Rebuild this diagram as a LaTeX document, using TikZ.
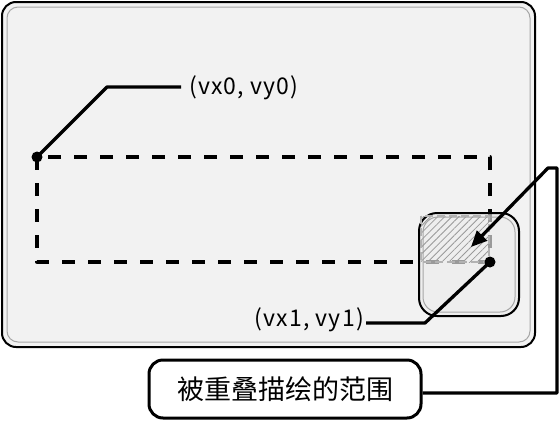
\documentclass[tikz,border=0pt]{standalone}
\usepackage{fontspec}
\setmainfont{Noto Sans CJK SC}
\newfontfamily\labelfont[LetterSpace=5]{Noto Sans CJK SC}
\usetikzlibrary{arrows.meta,patterns.meta}

\begin{document}
\begin{tikzpicture}[x=1pt,y=-1pt,line join=round,
  frame/.style={draw=black,line width=2pt,rounded corners=14pt},
  inframe/.style={draw=black!35,line width=1pt,rounded corners=11pt},
  leader/.style={line width=3.3pt},
  dot/.style={circle,fill=black,inner sep=0pt,minimum size=11pt},
  coordlabel/.style={font=\labelfont\fontsize{23}{27}\selectfont,inner sep=2pt},
  capbox/.style={draw,line width=3pt,rounded corners=14pt,fill=white,
    minimum width=272pt,minimum height=58pt,font=\fontsize{27}{31}\selectfont}]
  \useasboundingbox (0,0) rectangle (560,421);
  % screen
  \draw[frame,fill=black!5] (2,2) rectangle (535,347);
  \draw[inframe] (7,7) rectangle (530,342);
  % area to draw
  \draw[leader,dash pattern=on 13pt off 13pt] (37,157) rectangle (490,262);
  % window on top
  \draw[frame,rounded corners=18pt,fill=black!7,fill opacity=0.65] (419,213) rectangle (519,316);
  \draw[inframe,rounded corners=15pt] (423,217) rectangle (515,312);
  \fill[pattern={Lines[angle=45,distance=5pt,line width=0.8pt]},pattern color=black!40]
    (421,216) rectangle (489,262);
  \draw[black!30,line width=1.2pt,dash pattern=on 8pt off 4pt] (421,216) rectangle (489,262);
  \node[dot] (p0) at (37,157) {};
  \node[dot] (p1) at (490,262) {};
  \node[coordlabel,anchor=west,inner xsep=8pt] (l0) at (181,88) {(vx0, vy0)};
  \node[coordlabel,anchor=east] (l1) at (366,320) {(vx1, vy1)};
  \draw[leader] (p0.center) -- ++(70,-70) -- (l0.west |- 0,87);
  \draw[leader] (l1.east |- 0,323) -- (425,323) -- (p1.center);
  \node[capbox] (cap) at (285,389) {被重叠描绘的范围};
  \draw[leader,-{Triangle[length=16pt,width=14pt]}]
    ([yshift=-4pt]cap.east) -| (557,168) -- (548,168) -- (471,247);
\end{tikzpicture}
\end{document}
